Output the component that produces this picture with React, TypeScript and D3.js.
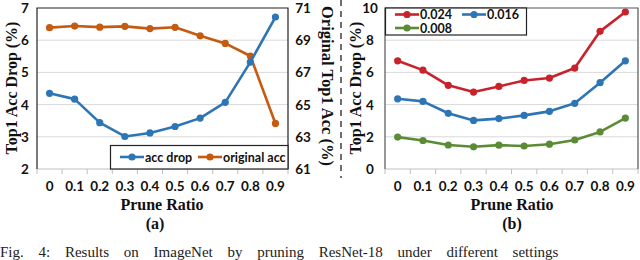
import React from 'react';
import * as d3 from 'd3';

const ratios = ['0', '0.1', '0.2', '0.3', '0.4', '0.5', '0.6', '0.7', '0.8', '0.9'];
const accDrop = [4.35, 4.17, 3.44, 3.01, 3.12, 3.32, 3.58, 4.07, 5.32, 6.72];
const originalAcc = [69.78, 69.88, 69.81, 69.86, 69.72, 69.8, 69.27, 68.8, 68.02, 63.83];
const drop024 = [6.72, 6.14, 5.2, 4.78, 5.13, 5.5, 5.65, 6.27, 8.55, 9.75];
const drop016 = [4.36, 4.2, 3.46, 3.02, 3.13, 3.33, 3.58, 4.08, 5.36, 6.72];
const drop008 = [1.98, 1.77, 1.49, 1.38, 1.48, 1.43, 1.54, 1.8, 2.3, 3.16];
const leftTicks = [2, 3, 4, 5, 6, 7];
const rightTicks = [61, 63, 65, 67, 69, 71];
const bTicks = [0, 2, 4, 6, 8, 10];

const BLUE = '#2E75B6';
const ORANGE = '#C55A11';
const RED = '#C8232C';
const GREEN = '#5B8C35';
const GRID = '#D9D9D9';
const tickFont = 'Lato, "Open Sans", sans-serif';
const titleFont = '"Liberation Serif", "DejaVu Serif", serif';

const Series = ({ values, x, y, color }: any) => {
  const line = d3.line<number>().x((_, i) => x(ratios[i])! + x.bandwidth() / 2).y(d => y(d));
  return (
    <g>
      <path d={line(values)!} fill="none" stroke={color} strokeWidth={2.6} strokeLinejoin="round" />
      {values.map((v: number, i: number) => (
        <circle key={i} cx={x(ratios[i])! + x.bandwidth() / 2} cy={y(v)} r={3.6} fill={color} />
      ))}
    </g>
  );
};

const LegendItem = ({ x0, y0, color, label }: any) => (
  <g>
    <line x1={x0} x2={x0 + 24} y1={y0} y2={y0} stroke={color} strokeWidth={2.6} />
    <circle cx={x0 + 12} cy={y0} r={3.6} fill={color} />
    <text x={x0 + 25} y={y0 + 4.5} fontFamily={tickFont} fontWeight="bold" fontSize={12.5} fill="#111">{label}</text>
  </g>
);

const XAxis = ({ x, y0 }: any) => (
  <g>
    <line x1={x.range()[0]} x2={x.range()[1]} y1={y0} y2={y0} stroke="#BFBFBF" strokeWidth={1} />
    {d3.range(ratios.length + 1).map(i => {
      const px = x.range()[0] + i * x.step();
      return <line key={i} x1={px} x2={px} y1={y0} y2={y0 + 5} stroke="#BFBFBF" />;
    })}
    {ratios.map(r => (
      <text key={r} x={x(r)! + x.bandwidth() / 2} y={y0 + 22} textAnchor="middle"
        fontFamily={tickFont} fontWeight="bold" fontSize={13.5} fill="#111">{r}</text>
    ))}
  </g>
);

export default function App() {
  // panel (a)
  const xa = d3.scaleBand<string>().domain(ratios).range([37, 288]).paddingInner(0).paddingOuter(0);
  const ya = d3.scaleLinear().domain([2, 7]).range([169, 8]);
  const yr = d3.scaleLinear().domain([61, 71]).range([169, 8]);
  // panel (b)
  const xb = d3.scaleBand<string>().domain(ratios).range([385, 638]).paddingInner(0).paddingOuter(0);
  const yb = d3.scaleLinear().domain([0, 10]).range([169, 8]);

  return (
    <svg width={640} height={260} style={{ position: 'absolute', left: 0, top: 0, background: '#fff' }}>
      {/* panel a gridlines */}
      {leftTicks.slice(1, -1).map(t => (
        <line key={t} x1={37} x2={288} y1={ya(t)} y2={ya(t)} stroke={GRID} strokeWidth={1} />
      ))}
      <XAxis x={xa} y0={169} />
      <path d={`M37,169V8H288V169`} fill="none" stroke="#222" strokeWidth={1.2} />
      {leftTicks.map(t => (
        <text key={t} x={25} y={ya(t) + 5} textAnchor="middle" fontFamily={tickFont} fontWeight="bold" fontSize={13.5} fill="#111">{t}</text>
      ))}
      {rightTicks.map(t => (
        <text key={t} x={303} y={yr(t) + 5} textAnchor="middle" fontFamily={tickFont} fontWeight="bold" fontSize={13.5} fill="#111">{t}</text>
      ))}
      <Series values={originalAcc} x={xa} y={yr} color={ORANGE} />
      <Series values={accDrop} x={xa} y={ya} color={BLUE} />
      <rect x={110.5} y={145.5} width={177.5} height={23.5} fill="#fff" stroke="#222" strokeWidth={1.2} />
      <LegendItem x0={120} y0={157} color={BLUE} label="acc drop" />
      <LegendItem x0={198} y0={157} color={ORANGE} label="original acc" />
      <text transform="translate(17,88) rotate(-90)" textAnchor="middle" fontFamily={titleFont} fontWeight="bold" fontSize={16} fill="#111">Top1 Acc Drop (%)</text>
      <text transform="translate(322,86) rotate(90)" textAnchor="middle" fontFamily={titleFont} fontWeight="bold" fontSize={16.5} fill="#111">Original Top1 Acc (%)</text>
      <text x={162} y={210} textAnchor="middle" fontFamily={titleFont} fontWeight="bold" fontSize={16} fill="#111">Prune Ratio</text>
      <text x={155} y={229} textAnchor="middle" fontFamily={titleFont} fontWeight="bold" fontSize={16} fill="#111">(a)</text>

      {/* divider */}
      <line x1={341} x2={341} y1={0} y2={178} stroke="#222" strokeWidth={1.3} strokeDasharray="6,5" />

      {/* panel b */}
      {bTicks.slice(1, -1).map(t => (
        <line key={t} x1={385} x2={638} y1={yb(t)} y2={yb(t)} stroke={GRID} strokeWidth={1} />
      ))}
      <XAxis x={xb} y0={169} />
      <path d={`M385,169V8H638V169`} fill="none" stroke="#555" strokeWidth={1.2} />
      {bTicks.map(t => (
        <text key={t} x={370} y={yb(t) + 5} textAnchor="middle" fontFamily={tickFont} fontWeight="bold" fontSize={13.5} fill="#111">{t}</text>
      ))}
      <Series values={drop008} x={xb} y={yb} color={GREEN} />
      <Series values={drop016} x={xb} y={yb} color={BLUE} />
      <Series values={drop024} x={xb} y={yb} color={RED} />
      <rect x={385.5} y={8} width={141} height={27} fill="#fff" stroke="#222" strokeWidth={1.2} />
      <LegendItem x0={395} y0={14.5} color={RED} label="0.024" />
      <LegendItem x0={462} y0={14.5} color={BLUE} label="0.016" />
      <LegendItem x0={395} y0={28} color={GREEN} label="0.008" />
      <text transform="translate(361,88) rotate(-90)" textAnchor="middle" fontFamily={titleFont} fontWeight="bold" fontSize={16} fill="#111">Top1 Acc Drop (%)</text>
      <text x={512} y={210} textAnchor="middle" fontFamily={titleFont} fontWeight="bold" fontSize={16} fill="#111">Prune Ratio</text>
      <text x={512} y={229} textAnchor="middle" fontFamily={titleFont} fontWeight="bold" fontSize={16} fill="#111">(b)</text>

      {/* caption */}
      <text x={0} y={257} fontFamily={titleFont} fontSize={15} fill="#222" wordSpacing={11}>Fig. 4: Results on ImageNet by pruning ResNet-18 under different settings</text>
    </svg>
  );
}
